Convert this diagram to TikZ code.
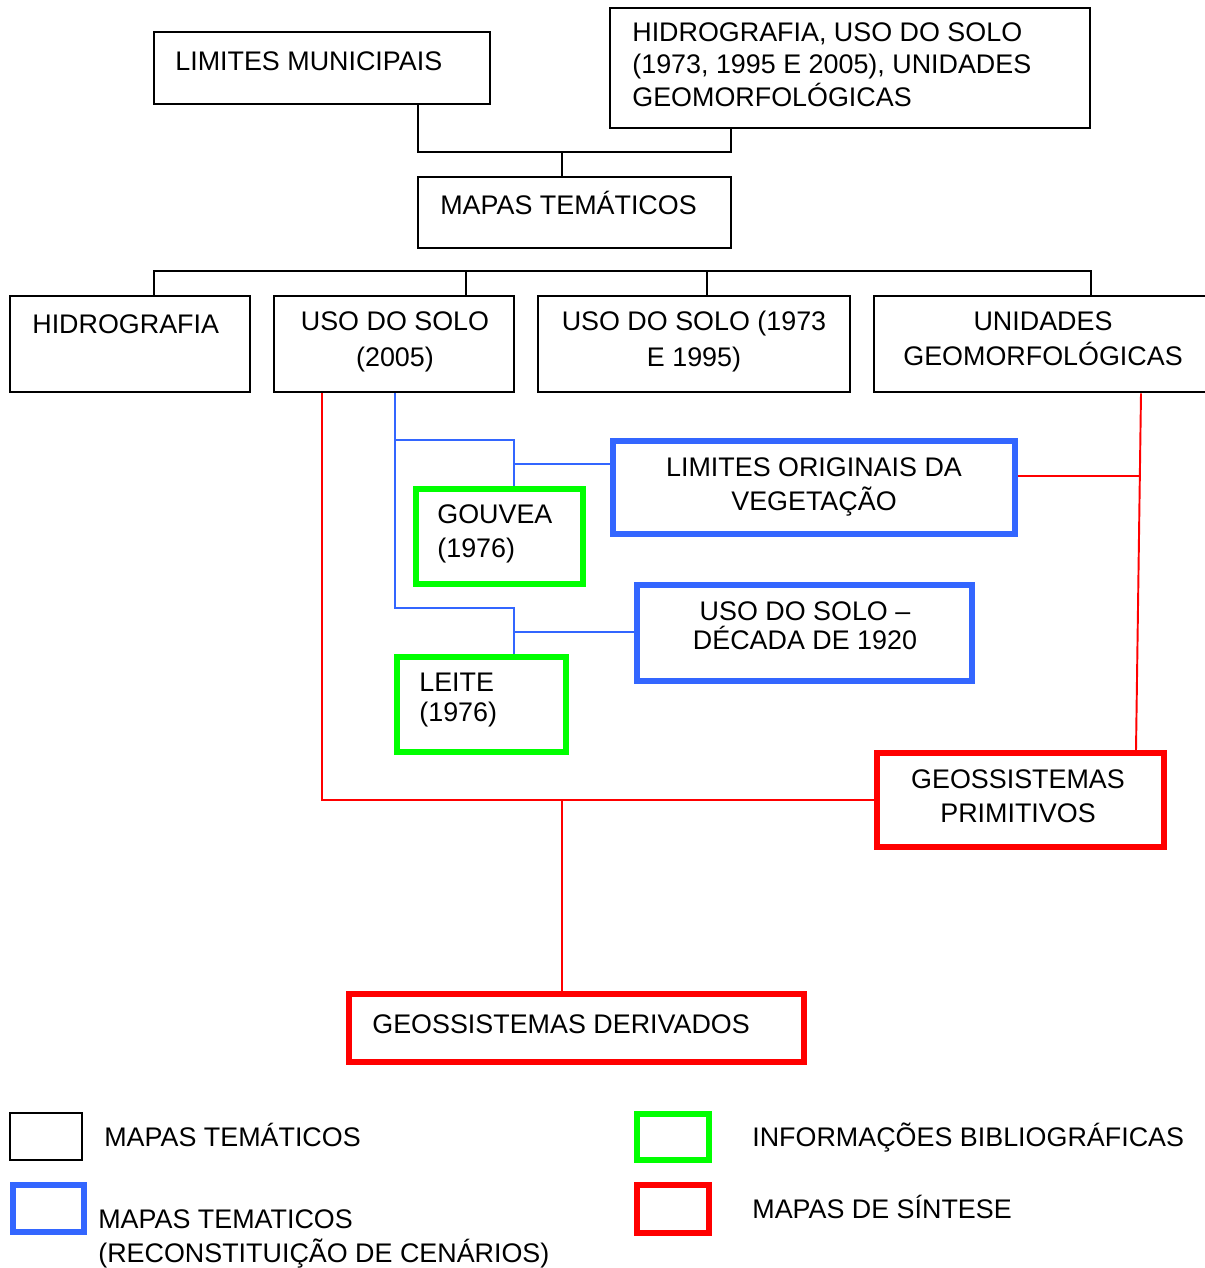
\documentclass[tikz,border=0pt]{standalone}
\usepackage{fontspec}
\setmainfont{Liberation Sans}
\usetikzlibrary{fit}
\definecolor{azul}{RGB}{51,102,255}
\definecolor{verde}{RGB}{0,255,0}
\definecolor{vermelho}{RGB}{255,0,0}

\begin{document}
\begin{tikzpicture}[x=0.02cm, y=-0.02cm,
  mapa/.style={draw=black, line width=1.6pt, inner sep=0pt},
  cenario/.style={draw=azul, line width=3.4pt, inner sep=0pt},
  biblio/.style={draw=verde, line width=3.4pt, inner sep=0pt},
  sintese/.style={draw=vermelho, line width=3.4pt, inner sep=0pt},
  rotulo/.style={font=\fontsize{15.3}{#1}\selectfont, inner sep=0pt},
  rotulo/.default=19,
  liga/.style={draw=black, line width=1.6pt},
  ligaazul/.style={draw=azul, line width=1.1pt},
  ligavermelha/.style={draw=vermelho, line width=1.1pt}]
  \useasboundingbox (0,0) rectangle (1204,1268);

  % caixas
  \node[mapa, fit={(154,32) (490,104)}] (limites) {};
  \node[mapa, fit={(610,8) (1090,128)}] (hidrotodos) {};
  \node[mapa, fit={(418,177) (731,248)}] (tematicos) {};
  \node[mapa, fit={(10,296) (250,392)}] (hidrografia) {};
  \node[mapa, fit={(274,296) (514,392)}] (uso2005) {};
  \node[mapa, fit={(538,296) (850,392)}] (uso7395) {};
  \node[mapa, fit={(874,296) (1230,392)}] (unidades) {};
  \node[cenario, fit={(613,441) (1015,534)}] (vegetacao) {};
  \node[cenario, fit={(637,585) (972,681)}] (uso1920) {};
  \node[biblio, fit={(416,489) (583,584)}] (gouvea) {};
  \node[biblio, fit={(397,657) (566,752)}] (leite) {};
  \node[sintese, fit={(877,753) (1164,847)}] (primitivos) {};
  \node[sintese, fit={(349,994) (804,1062)}] (derivados) {};

  % textos
  \node[rotulo, anchor=base west] (tlimites) at (175,70) {LIMITES MUNICIPAIS};
  \node[rotulo=18.5, anchor=north west, align=left] (thidrotodos) at (632,22)
    {HIDROGRAFIA, USO DO SOLO\\(1973, 1995 E 2005), UNIDADES\\GEOMORFOLÓGICAS};
  \node[rotulo, anchor=base west] (ttematicos) at (440,214) {MAPAS TEMÁTICOS};
  \node[rotulo, anchor=base west] (thidrografia) at (32,333) {HIDROGRAFIA};
  \node[rotulo=20.5, anchor=north, align=center] (tuso2005) at (395,311) {USO DO SOLO\\(2005)};
  \node[rotulo=20.5, anchor=north, align=center] (tuso7395) at (694,311) {USO DO SOLO (1973\\E 1995)};
  \node[rotulo=20, anchor=north, align=center] (tunidades) at (1043,311) {UNIDADES\\GEOMORFOLÓGICAS};
  \node[rotulo=19.3, anchor=north, align=center] (tvegetacao) at (814,457) {LIMITES ORIGINAIS DA\\VEGETAÇÃO};
  \node[rotulo=19.8, anchor=north west, align=left] (tgouvea) at (437,504) {GOUVEA\\(1976)};
  \node[rotulo=16.5, anchor=north, align=center] (tuso1920) at (805,601) {USO DO SOLO –\\DÉCADA DE 1920};
  \node[rotulo=17, anchor=north west, align=left] (tleite) at (419,673) {LEITE\\(1976)};
  \node[rotulo=19.8, anchor=north, align=center] (tprimitivos) at (1018,769) {GEOSSISTEMAS\\PRIMITIVOS};
  \node[rotulo, anchor=base west] (tderivados) at (372,1033) {GEOSSISTEMAS DERIVADOS};

  % ligacoes
  \coordinate (juncao) at (562,152);
  \draw[liga] (418,0 |- limites.south) |- (juncao) -| (731,0 |- hidrotodos.south);
  \draw[liga] (juncao) -- (562,0 |- tematicos.north);
  \draw[liga] (154,0 |- hidrografia.north) |- (1091,271) -- (1091,0 |- unidades.north);
  \foreach \x/\caixa in {466/uso2005, 707/uso7395}
    \draw[liga] (\x,271) -- (\x,0 |- \caixa.north);

  \draw[ligaazul] (395,0 |- uso2005.south) -- (395,608) -| (514,0 |- leite.north);
  \draw[ligaazul] (395,440) -| (514,0 |- gouvea.north);
  \draw[ligaazul] (514,464) -- (vegetacao.west |- 0,464);
  \draw[ligaazul] (514,632) -- (uso1920.west |- 0,632);

  \draw[ligavermelha] (322,0 |- uso2005.south) |- (primitivos.west);
  \draw[ligavermelha] (562,800) -- (562,0 |- derivados.north);
  \draw[ligavermelha] (1141,0 |- unidades.south) -- (1136,0 |- primitivos.north);
  \draw[ligavermelha] (vegetacao.east |- 0,476) -- (1139,476);

  % legenda
  \node[mapa, fit={(10,1113) (82,1160)}] (legmapa) {};
  \node[cenario, fit={(13,1185) (84,1232)}] (legcenario) {};
  \node[biblio, fit={(637,1114) (709,1160)}] (legbiblio) {};
  \node[sintese, fit={(637,1185) (709,1233)}] (legsintese) {};
  \node[rotulo, anchor=base west] (tlegmapa) at (104,1146) {MAPAS TEMÁTICOS};
  \node[rotulo=19.3, anchor=north west, align=left] (tlegcenario) at (98,1209)
    {MAPAS TEMATICOS\\(RECONSTITUIÇÃO DE CENÁRIOS)};
  \node[rotulo, anchor=base west] (tlegbiblio) at (752,1146) {INFORMAÇÕES BIBLIOGRÁFICAS};
  \node[rotulo, anchor=base west] (tlegsintese) at (752,1218) {MAPAS DE SÍNTESE};
\end{tikzpicture}
\end{document}
